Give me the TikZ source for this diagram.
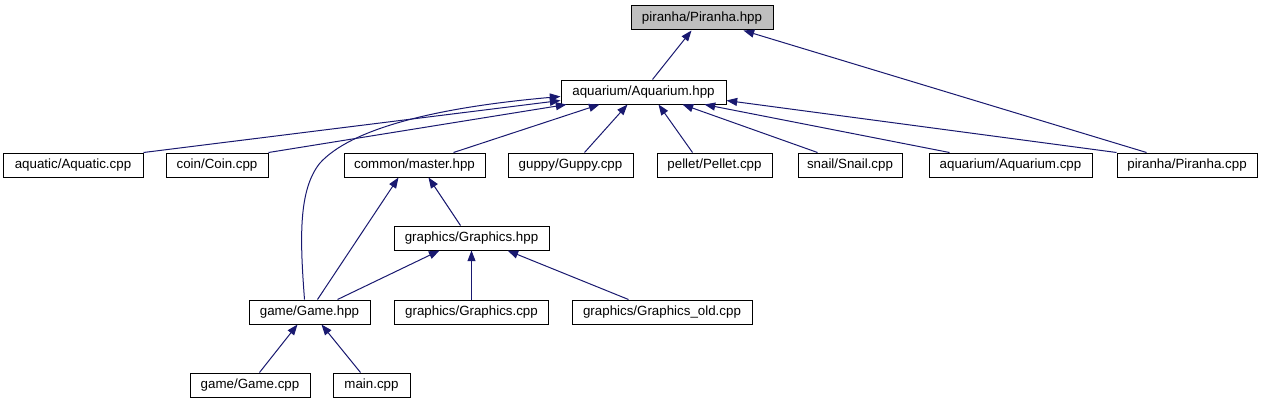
\documentclass[tikz,border=0pt]{standalone}
\usepackage{fontspec}
\setmainfont{Liberation Sans}
\usetikzlibrary{arrows.meta,calc}
\definecolor{navy}{HTML}{191970}
\definecolor{hdrgray}{HTML}{BFBFBF}
\begin{document}
\begin{tikzpicture}[x=0.75pt,y=-0.75pt,
  box/.style={draw=black, line width=0.75pt, fill=white, inner sep=0pt, minimum height=18pt, font=\fontsize{10}{12}\selectfont},
  edge/.style={draw=navy, line width=0.75pt, -{Triangle[length=8pt,width=6pt,fill=navy]}}]
\useasboundingbox (0,0) rectangle (1262,403);
\fill[white] (0,0) rectangle (1262,403);
% nodes
\node[box, fill=hdrgray, minimum width=106.5pt] (ph) at (702,18) {piranha/Piranha.hpp};
\node[box, minimum width=123.75pt] (aqh) at (643.5,92) {aquarium/Aquarium.hpp};
\node[box, minimum width=105pt] (aquatic) at (73,165) {aquatic/Aquatic.cpp};
\node[box, minimum width=76.5pt] (coin) at (217,165) {coin/Coin.cpp};
\node[box, minimum width=105.75pt] (master) at (414.5,165) {common/master.hpp};
\node[box, minimum width=93.75pt] (guppy) at (570.5,165) {guppy/Guppy.cpp};
\node[box, minimum width=86.25pt] (pellet) at (714.5,165) {pellet/Pellet.cpp};
\node[box, minimum width=78pt] (snail) at (850,165) {snail/Snail.cpp};
\node[box, minimum width=122.25pt] (aqcpp) at (1010.5,165) {aquarium/Aquarium.cpp};
\node[box, minimum width=105pt] (pcpp) at (1187,165) {piranha/Piranha.cpp};
\node[box, minimum width=116.25pt] (ghpp) at (471.5,238) {graphics/Graphics.hpp};
\node[box, minimum width=90.75pt] (game) at (309.5,312) {game/Game.hpp};
\node[box, minimum width=115.5pt] (gcpp) at (471.5,312) {graphics/Graphics.cpp};
\node[box, minimum width=135pt] (gold) at (662,312) {graphics/Graphics\_old.cpp};
\node[box, minimum width=90pt] (gamecpp) at (250,385) {game/Game.cpp};
\node[box, minimum width=57.75pt] (main) at (371.5,385) {main.cpp};
% edges
\draw[edge] ($(aqh.north west)+(92,0)$) -- ($(ph.south west)+(61,0)$);
\draw[edge] ($(pcpp.north west)+(30,0)$) -- ($(ph.south west)+(113,0)$);
\draw[edge] (aquatic.north east) -- ($(aqh.south west)+(0,-4)$);
\draw[edge] (coin.north east) -- ($(aqh.south west)+(6,0)$);
\draw[edge] ($(master.north west)+(110,0)$) -- ($(aqh.south west)+(39,0)$);
\draw[edge] ($(guppy.north west)+(77,0)$) -- ($(aqh.south west)+(67,0)$);
\draw[edge] ($(pellet.north west)+(36,0)$) -- ($(aqh.south west)+(98,0)$);
\draw[edge] ($(snail.north west)+(20,0)$) -- ($(aqh.south west)+(122,0)$);
\draw[edge] ($(aqcpp.north west)+(21,0)$) -- ($(aqh.south east)+(-22,0)$);
\draw[edge] (pcpp.north west) -- ($(aqh.south east)+(0,-4)$);
\draw[edge] ($(game.north west)+(56,0)$) .. controls (300,240) and (298,190) .. (320,163)
   .. controls (350,130) and (430,108) .. ($(aqh.south west)+(0,-8)$);
\draw[edge] ($(game.north west)+(69,0)$) -- ($(master.south west)+(55,0)$);
\draw[edge] ($(ghpp.north west)+(67,0)$) -- ($(master.south west)+(85,0)$);
\draw[edge] ($(game.north west)+(89,0)$) -- ($(ghpp.south west)+(46,0)$);
\draw[edge] (gcpp.north) -- (ghpp.south);
\draw[edge] ($(gold.north west)+(57,0)$) -- ($(ghpp.south west)+(114,0)$);
\draw[edge] ($(gamecpp.north west)+(70,0)$) -- ($(game.south west)+(49,0)$);
\draw[edge] ($(main.north west)+(28,0)$) -- ($(game.south west)+(73,0)$);
\end{tikzpicture}
\end{document}
